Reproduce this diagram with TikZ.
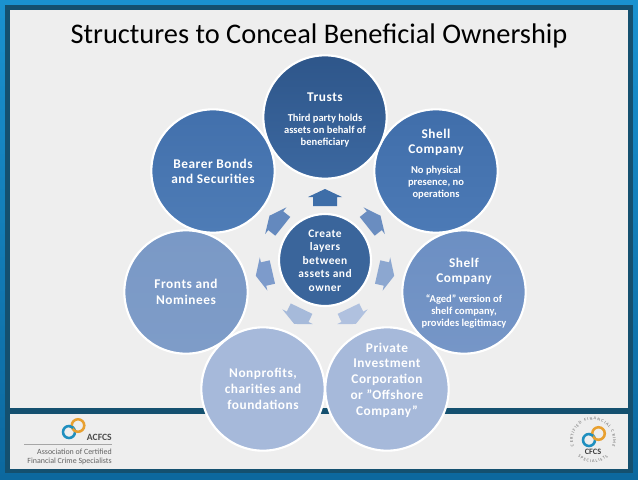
\documentclass[tikz,border=0pt]{standalone}
\usepackage{fontspec}
\setmainfont{Carlito}
\newfontfamily\lab[LetterSpace=4]{Carlito}
\usetikzlibrary{decorations.text}
\definecolor{panel}{HTML}{EEEEEE}
\definecolor{frameDark}{HTML}{14506F}
\definecolor{frameTop}{HTML}{1A92D0}
\definecolor{frameBot}{HTML}{0C689E}
\definecolor{ringBlue}{HTML}{1F8FBF}
\definecolor{ringOrange}{HTML}{E8A030}
\definecolor{arA}{HTML}{3E6EA8}
\definecolor{arB}{HTML}{6489BE}
\definecolor{arC}{HTML}{7D9BCB}
\definecolor{arD}{HTML}{A6BADA}
\definecolor{arE}{HTML}{B0C1DF}
\definecolor{arF}{HTML}{8CA7D0}
\definecolor{arG}{HTML}{6A8DC0}
\definecolor{bearerT}{HTML}{4270AC}
\definecolor{bearerB}{HTML}{4E7CB6}
\definecolor{frontsT}{HTML}{7A99C6}
\definecolor{frontsB}{HTML}{7E9CC8}
\definecolor{pale}{HTML}{A6B9DA}
\definecolor{shelfT}{HTML}{6C8FC3}
\definecolor{shelfB}{HTML}{7696C7}
\definecolor{shellT}{HTML}{406EAA}
\definecolor{shellB}{HTML}{4C7AB6}
\definecolor{trustsT}{HTML}{2E568A}
\definecolor{trustsB}{HTML}{3C68A0}
\definecolor{hubFill}{HTML}{3A659B}
\tikzset{
  x=0.75pt,y=-0.75pt,
  blob/.style={circle,draw=white,line width=1.6pt,minimum size=92.5pt,inner sep=0pt},
  hub/.style={circle,draw=white,line width=1.6pt,minimum size=69pt,inner sep=0pt,fill=hubFill},
  headtxt/.style={text=white,align=center,font=\lab\bfseries\fontsize{10}{12.2}\selectfont},
  tighttxt/.style={text=white,align=center,font=\lab\bfseries\fontsize{10}{11.3}\selectfont},
  subtxt/.style={text=white,align=center,font=\bfseries\fontsize{7.9}{9}\selectfont},
  logotxt/.style={text=black!62,inner sep=0pt,font=\fontsize{5.95}{6.2}\selectfont},
}
\newcommand{\housearrow}[2]{%
  \fill[#2,rotate around={#1:(325,260)}] (325,189) -- (342,197) -- (337,197) -- (337,206) -- (313,206) -- (313,197) -- (308,197) -- cycle;}
\begin{document}
\begin{tikzpicture}
\useasboundingbox (0,0) rectangle (638,479);
% frame
\shade[top color=frameTop,bottom color=frameBot] (0,0) rectangle (638,479);
\fill[frameDark] (5,5) rectangle (633,473);
\fill[panel] (10,10) rectangle (628,408);
\fill[panel] (10,414) rectangle (628,469);
% title
\node[font=\fontsize{21.3}{25}\selectfont,text=black,inner sep=0pt] (title) at (319,36) {Structures to Conceal Beneficial Ownership};
% arrows
\housearrow{0}{arA}
\housearrow{51.43}{arB}
\housearrow{102.86}{arC}
\housearrow{154.29}{arD}
\housearrow{205.71}{arE}
\housearrow{257.14}{arF}
\housearrow{308.57}{arG}
% outer circles
\node[blob,top color=bearerT,bottom color=bearerB] (bearer) at (213,171) {};
\node[blob,top color=frontsT,bottom color=frontsB] (fronts) at (186,292) {};
\node[blob,fill=pale] (nonprofits) at (263,389) {};
\node[blob,fill=pale] (private) at (387,389) {};
\node[blob,top color=shelfT,bottom color=shelfB] (shelf) at (464,292) {};
\node[blob,top color=shellT,bottom color=shellB] (shell) at (436,171) {};
\node[blob,top color=trustsT,bottom color=trustsB] (trusts) at (325,117) {};
\node[hub] (centre) at (325,260) {};
% labels
\node[headtxt] (tTrusts) at (325,97) {Trusts};
\node[subtxt] (dTrusts) at (325,130.5) {Third party holds\\assets on behalf of\\beneficiary};
\node[tighttxt] (tShell) at (436,142.5) {Shell\\Company};
\node[subtxt] (dShell) at (436,183) {No physical\\presence, no\\operations};
\node[tighttxt] (tShelf) at (464,271.5) {Shelf\\Company};
\node[subtxt] (dShelf) at (464,311) {“Aged” version of\\shelf company,\\provides legitimacy};
\node[tighttxt,font=\lab\bfseries\fontsize{10}{11.8}\selectfont] (tPrivate) at (387,380) {Private\\Investment\\Corporation\\or ”Offshore\\Company”};
\node[headtxt] (tNonprofits) at (263,389) {Nonprofits,\\charities and\\foundations};
\node[headtxt] (tFronts) at (186,292) {Fronts and\\Nominees};
\node[tighttxt] (tBearer) at (213,171) {Bearer Bonds\\and Securities};
\node[headtxt,font=\lab\bfseries\fontsize{8.6}{10.1}\selectfont] (tCentre) at (325,260.5) {Create\\layers\\between\\assets and\\owner};
% ACFCS logo
\draw[ringBlue,line width=1.9pt] (69,432) circle[radius=4.5pt];
\draw[ringOrange,line width=1.9pt] (78,425.5) circle[radius=4.7pt];
\draw[ringBlue,line width=1.9pt] (69,432) ++(45:4.5pt) arc[start angle=45,end angle=85,radius=4.5pt];
\node[anchor=east,inner sep=0pt,text=black!70,font=\bfseries\fontsize{7.2}{8}\selectfont] (acfcs) at (112,437) {ACFCS};
\coordinate (ruleA) at (24,444);
\coordinate (ruleB) at (112,444);
\draw[black!35,line width=0.5pt] (ruleA) -- (ruleB);
\node[logotxt,anchor=east] (assoc) at (112,452) {Association of Certified};
\node[logotxt,anchor=east] (fin) at (112,461) {Financial Crime Specialists};
% CFCS logo
\draw[ringBlue,line width=1.9pt] (589,440) circle[radius=4.5pt];
\draw[ringOrange,line width=1.9pt] (598.5,433.5) circle[radius=4.7pt];
\draw[ringBlue,line width=1.9pt] (589,440) ++(45:4.5pt) arc[start angle=45,end angle=85,radius=4.5pt];
\node[inner sep=0pt,text=black!75,font=\bfseries\fontsize{6.2}{6.5}\selectfont] (cfcs) at (593,451.5) {CFCS};
\path[decorate,decoration={text along path,text align={fit to path},text={|\fontsize{3.2}{4}\selectfont\color{black!60}|CERTIFIED FINANCIAL CRIME}}]
  (593,440) ++(198:15pt) arc[start angle=198,end angle=-18,radius=15pt];
\path[decorate,decoration={text along path,text align={fit to path},text={|\fontsize{3.2}{4}\selectfont\color{black!60}|SPECIALISTS}}]
  (593,440) ++(228:17pt) arc[start angle=228,end angle=312,radius=17pt];
\end{tikzpicture}
\end{document}
